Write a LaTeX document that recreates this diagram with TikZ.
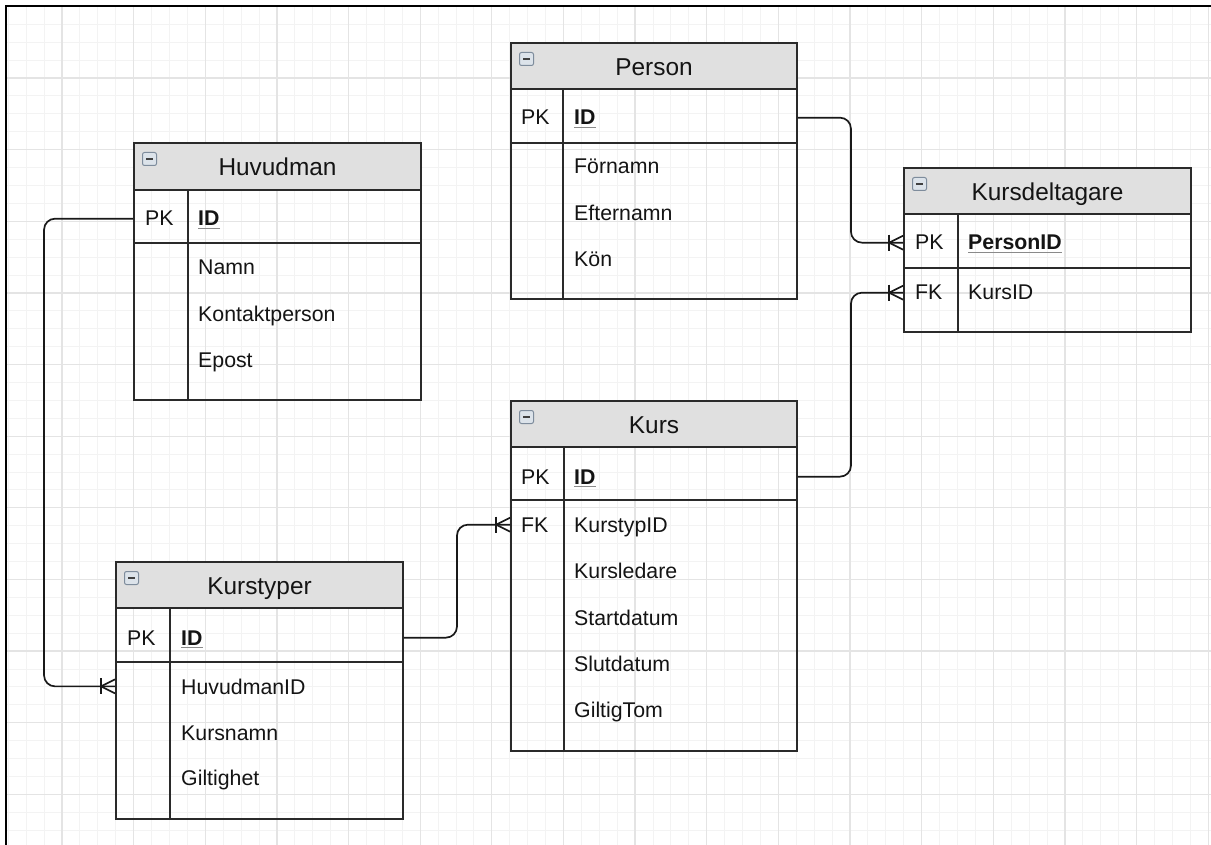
\documentclass[tikz,border=0pt]{standalone}
\usepackage{fontspec}
\setmainfont{Liberation Sans}
\usetikzlibrary{calc,fit}

\definecolor{gridmajor}{HTML}{E4E4E4}
\definecolor{gridminor}{HTML}{F3F3F3}
\definecolor{headgray}{HTML}{E0E0E0}
\definecolor{edge}{HTML}{2A2A2A}
\definecolor{inktext}{HTML}{141414}
\definecolor{iconedge}{HTML}{7E8C9C}
\definecolor{iconfill}{HTML}{DCE3EA}
\definecolor{ulgray}{HTML}{8A8A8A}

\tikzset{
  majorgrid/.style={draw=gridmajor, line width=1.3pt},
  minorgrid/.style={draw=gridminor, line width=1pt},
  frameline/.style={draw=black, line width=2.4pt},
  tableline/.style={draw=edge, line width=1.9pt},
  tablebox/.style={draw=edge, line width=1.9pt, inner sep=0pt},
  titletext/.style={font=\fontsize{24.4}{28}\selectfont, text=inktext, inner sep=0pt, anchor=base},
  fieldtext/.style={font=\fontsize{21.3}{25}\selectfont, text=inktext, inner sep=0pt, anchor=base west},
  keytext/.style={fieldtext, font=\fontsize{21.3}{25}\selectfont\bfseries},
  keyline/.style={draw=ulgray, line width=1.3pt},
  conn/.style={draw=black!90, line width=1.7pt, rounded corners=11pt},
  footline/.style={draw=black!90, line width=1.7pt},
  iconframe/.style={draw=iconedge, line width=1pt, fill=iconfill, rounded corners=2pt},
  iconbar/.style={draw=black!75, line width=2pt},
}

% #1 name, #2 left, #3 top, #4 right, #5 header bottom, #6 key row bottom,
% #7 bottom, #8 divider x, #9 title
\newcommand\ertable[9]{%
  \fill[headgray] (#2,#3) rectangle (#4,#5);
  \draw[tableline] (#2,#5) -- (#4,#5);
  \draw[tableline] (#2,#6) -- (#4,#6);
  \draw[tableline] (#8,#5) -- (#8,#7);
  \node[tablebox, fit={(#2,#3) (#4,#7)}] (#1) {};
  \draw[iconframe] (#2+8.5,#3+9.5) rectangle ++(14,13);
  \draw[iconbar] (#2+12,#3+16) -- ++(7,0);
  \node[titletext] (#1-title) at ({(#2+#4)/2},{(#3+#5)/2+9.3}) {#9};
}

% underlined key attribute
\newcommand\keyfield[4]{%
  \node[keytext] (#1) at (#2,#3) {#4};
  \draw[keyline] ([yshift=-2.8pt]#1.base west) -- ([yshift=-2.8pt]#1.base east);
}

% "one or many" end drawn at a box edge, line entering from the left
\newcommand\manyend[1]{%
  \draw[footline] ($(#1)+(-14,-8)$) -- ($(#1)+(-14,8)$);
  \draw[footline] ($(#1)+(-14,0)$) -- ($(#1)+(0,-7)$);
  \draw[footline] ($(#1)+(-14,0)$) -- ($(#1)+(0,7)$);
}

\begin{document}
\begin{tikzpicture}[x=1pt,y=-1pt]
\useasboundingbox (0,0) rectangle (1211,845);
\fill[white] (0,0) rectangle (1211,845);

% background grid
\begin{scope}
  \clip (6,6) rectangle (1211,845);
  \foreach \i in {0,...,67} \draw[minorgrid] ({8.27+\i*17.91},0) -- ++(0,845);
  \foreach \i in {0,...,47} \draw[minorgrid] (0,{6.36+\i*17.91}) -- ++(1211,0);
  \foreach \i in {0,...,17} \draw[majorgrid] ({-9.64+\i*71.64},0) -- ++(0,845);
  \foreach \i in {0,...,11} \draw[majorgrid] (0,{6.36+\i*71.64}) -- ++(1211,0);
\end{scope}
\draw[frameline] (6.2,845) -- (6.2,6.2) -- (1211,6.2);

% Person
\ertable{person}{511}{43}{797}{89}{143}{299}{563}{Person}
\node[fieldtext] (person-pkl) at (521,125) {PK};
\keyfield{person-pk}{574}{125}{ID}
\node[fieldtext] (person-f1) at (574,174) {Förnamn};
\node[fieldtext] (person-f2) at (574,221) {Efternamn};
\node[fieldtext] (person-f3) at (574,267) {Kön};

% Huvudman
\ertable{hm}{134}{143}{421}{190}{243}{400}{188}{Huvudman}
\node[fieldtext] (hm-pkl) at (145,226) {PK};
\keyfield{hm-pk}{198}{226}{ID}
\node[fieldtext] (hm-f1) at (198,275) {Namn};
\node[fieldtext] (hm-f2) at (198,321) {Kontaktperson};
\node[fieldtext] (hm-f3) at (198,367) {Epost};

% Kursdeltagare
\ertable{kd}{904}{168}{1191}{214}{268}{332}{958}{Kursdeltagare}
\node[fieldtext] (kd-pkl) at (915,250) {PK};
\keyfield{kd-pk}{968}{250}{PersonID}
\node[fieldtext] (kd-fkl) at (915,300) {FK};
\node[fieldtext] (kd-f1) at (968,300) {KursID};

% Kurs
\ertable{kurs}{511}{401}{797}{447}{500}{751}{564}{Kurs}
\node[fieldtext] (kurs-pkl) at (521,484) {PK};
\keyfield{kurs-pk}{574}{484}{ID}
\node[fieldtext] (kurs-fkl) at (521,532) {FK};
\node[fieldtext] (kurs-f1) at (574,532) {KurstypID};
\node[fieldtext] (kurs-f2) at (574,578) {Kursledare};
\node[fieldtext] (kurs-f3) at (574,625) {Startdatum};
\node[fieldtext] (kurs-f4) at (574,671) {Slutdatum};
\node[fieldtext] (kurs-f5) at (574,717) {GiltigTom};

% Kurstyper
\ertable{kt}{116}{562}{403}{608}{662}{819}{170}{Kurstyper}
\node[fieldtext] (kt-pkl) at (127,645) {PK};
\keyfield{kt-pk}{181}{645}{ID}
\node[fieldtext] (kt-f1) at (181,694) {HuvudmanID};
\node[fieldtext] (kt-f2) at (181,740) {Kursnamn};
\node[fieldtext] (kt-f3) at (181,785) {Giltighet};

% relationships
\coordinate (kd-in1) at (kd.west |- kd-pkl);
\coordinate (kd-in2) at (kd.west |- kd-fkl);
\coordinate (kurs-in) at (kurs.west |- kurs-fkl);
\coordinate (kt-in) at (kt.west |- kt-f1);

\draw[conn] (person.east |- person-pkl) -- ++(53,0) |- (kd-in1);
\manyend{kd-in1}
\draw[conn] (kurs.east |- kurs-pkl) -- ++(53,0) |- (kd-in2);
\manyend{kd-in2}
\draw[conn] (kt.east |- kt-pkl) -- ++(53,0) |- (kurs-in);
\manyend{kurs-in}
\draw[conn] (hm.west |- hm-pkl) -- ++(-89,0) |- (kt-in);
\manyend{kt-in}
\end{tikzpicture}
\end{document}
